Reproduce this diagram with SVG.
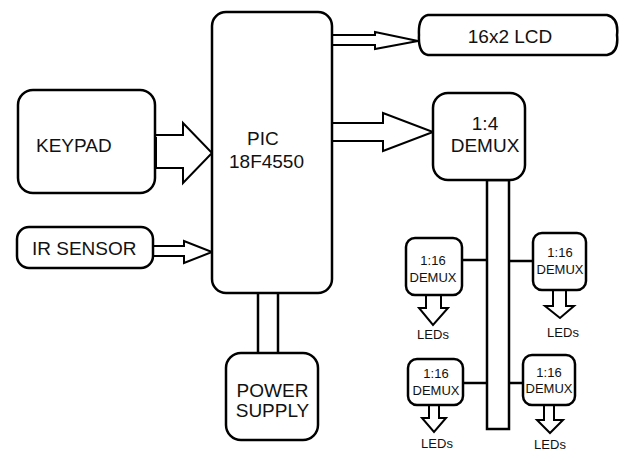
<svg xmlns="http://www.w3.org/2000/svg" width="622" height="453" viewBox="0 0 622 453">
<style>
.box{fill:#fff;stroke:#000;stroke-width:2.5}
.arr{fill:#fff;stroke:#000;stroke-width:2;stroke-linejoin:miter}
.ln{fill:none;stroke:#000;stroke-width:2.5}
.t{font-family:"Liberation Sans",Arial,sans-serif;font-size:19px;fill:#111}
.s{font-family:"Liberation Sans",Arial,sans-serif;font-size:13px;fill:#111}
</style>
<rect width="622" height="453" fill="#fff"/>
<g id="connectors">
<polygon class="arr" points="155,135 183,135 183,123 212,153 183,183 183,168 155,168"/>
<rect x="152" y="137" width="5" height="31" fill="#000"/>
<polygon class="arr" points="153,246 184,246 184,241 212,252 184,263 184,256 153,256"/>
<polygon class="arr" points="332,35 375,35 375,32 418,41 375,49 375,45 332,45"/>
<polygon class="arr" points="332,123 383,123 383,113 433,132 383,151 383,141 332,141"/>
<rect class="ln" x="487" y="180" width="22" height="249"/>
<line class="ln" x1="258" y1="293" x2="258" y2="354"/>
<line class="ln" x1="278" y1="293" x2="278" y2="354"/>
<line class="ln" x1="462" y1="260" x2="487" y2="260"/>
<line class="ln" x1="509" y1="261" x2="533" y2="261"/>
<line class="ln" x1="463" y1="383" x2="487" y2="383"/>
<line class="ln" x1="509" y1="383" x2="523" y2="383"/>
<polygon class="arr" points="426,295 441,295 441,308 448,308 433,325 419,308 426,308"/>
<polygon class="arr" points="553,290 566,290 566,306 574,306 560,318 545,306 553,306"/>
<polygon class="arr" points="429,405 439,405 439,418 446,418 434,432 422,418 429,418"/>
<polygon class="arr" points="544,405 554,405 554,420 563,420 550,433 537,420 544,420"/>
</g>
<g id="pic">
<rect class="box" x="212" y="12" width="120" height="281" rx="14"/>
<text class="t" x="247" y="145">PIC</text>
<text class="t" x="229" y="168">18F4550</text>
</g>
<g id="keypad">
<rect class="box" x="18" y="90" width="137" height="103" rx="15"/>
<text class="t" x="36" y="152">KEYPAD</text>
</g>
<g id="ir-sensor">
<rect class="box" x="17" y="227" width="136" height="41" rx="12"/>
<text class="t" x="32" y="255">IR SENSOR</text>
</g>
<g id="lcd">
<path class="box" d="M428,15 L607,15 Q619,18 617,35 Q619,53 607,55 L428,55 Q418,53 419,35 Q418,17 428,15 Z"/>
<text class="t" x="510" y="43" text-anchor="middle">16x2 LCD</text>
</g>
<g id="demux4">
<rect class="box" x="433" y="93" width="92" height="87" rx="15"/>
<text class="t" x="485" y="130" text-anchor="middle">1:4</text>
<text class="t" x="485" y="152" text-anchor="middle">DEMUX</text>
</g>
<g id="power-supply">
<rect class="box" x="226" y="353" width="92" height="87" rx="15"/>
<text class="t" x="272.5" y="397" text-anchor="middle">POWER</text>
<text class="t" x="272.5" y="417" text-anchor="middle">SUPPLY</text>
</g>
<g id="demux16-tl">
<rect class="box" x="406" y="238" width="56" height="57" rx="9"/>
<text class="s" x="433" y="265" text-anchor="middle">1:16</text>
<text class="s" x="433" y="282" text-anchor="middle">DEMUX</text>
<text class="s" x="433" y="339" text-anchor="middle">LEDs</text>
</g>
<g id="demux16-tr">
<rect class="box" x="533" y="233" width="53" height="57" rx="9"/>
<text class="s" x="560" y="257" text-anchor="middle">1:16</text>
<text class="s" x="560" y="274" text-anchor="middle">DEMUX</text>
<text class="s" x="563" y="337" text-anchor="middle">LEDs</text>
</g>
<g id="demux16-bl">
<rect class="box" x="408" y="359" width="55" height="46" rx="9"/>
<text class="s" x="436" y="378" text-anchor="middle">1:16</text>
<text class="s" x="436" y="395" text-anchor="middle">DEMUX</text>
<text class="s" x="437" y="448" text-anchor="middle">LEDs</text>
</g>
<g id="demux16-br">
<rect class="box" x="523" y="355" width="52" height="50" rx="9"/>
<text class="s" x="549" y="377" text-anchor="middle">1:16</text>
<text class="s" x="549" y="393" text-anchor="middle">DEMUX</text>
<text class="s" x="550" y="449" text-anchor="middle">LEDs</text>
</g>
</svg>
